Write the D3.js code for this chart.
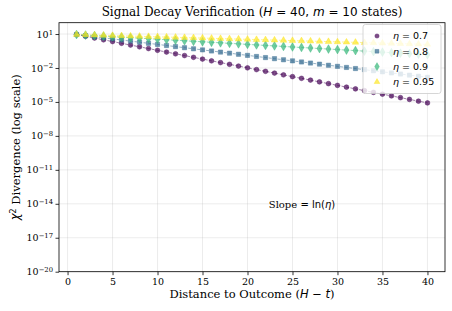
<!DOCTYPE html>
<html>
<head>
<meta charset="utf-8">
<script src="https://cdn.jsdelivr.net/npm/d3@7"></script>
<style>
  body { margin: 0; background: #fff; }
</style>
</head>
<body>
<div id="chart"></div>
<script>
// distance to outcome (H - t)
const distances = d3.range(1, 41);

// chi^2 divergence, one list per eta
const eta07 = [9, 6.3, 4.41, 3.087, 2.161, 1.513, 1.059, 0.741, 0.519, 0.363, 0.254, 0.178, 0.125, 0.0872, 0.0610, 0.0427, 0.0299, 0.0209, 0.01466, 0.01026, 0.00718, 0.00503, 0.00352, 0.00246, 0.00172, 0.00121, 8.45e-4, 5.91e-4, 4.14e-4, 2.90e-4, 2.03e-4, 1.42e-4, 9.94e-5, 6.96e-5, 4.87e-5, 3.41e-5, 2.39e-5, 1.67e-5, 1.17e-5, 8.19e-6];
const eta08 = [9, 7.2, 5.76, 4.608, 3.686, 2.949, 2.359, 1.887, 1.510, 1.208, 0.966, 0.773, 0.618, 0.495, 0.396, 0.317, 0.253, 0.203, 0.162, 0.130, 0.1038, 0.0830, 0.0664, 0.0531, 0.0425, 0.0340, 0.0272, 0.0218, 0.0174, 0.01393, 0.01114, 0.00891, 0.00713, 0.00570, 0.00456, 0.00365, 0.00292, 0.00234, 0.00187, 0.00150];
const eta09 = [9, 8.1, 7.29, 6.561, 5.905, 5.314, 4.783, 4.305, 3.874, 3.487, 3.138, 2.824, 2.542, 2.288, 2.059, 1.853, 1.668, 1.501, 1.351, 1.216, 1.094, 0.985, 0.886, 0.798, 0.718, 0.646, 0.582, 0.523, 0.471, 0.424, 0.382, 0.343, 0.309, 0.278, 0.250, 0.225, 0.203, 0.182, 0.164, 0.148];
const eta095 = [9, 8.55, 8.12, 7.72, 7.33, 6.96, 6.62, 6.29, 5.97, 5.67, 5.39, 5.12, 4.86, 4.62, 4.39, 4.17, 3.96, 3.76, 3.57, 3.40, 3.23, 3.07, 2.91, 2.77, 2.63, 2.50, 2.37, 2.25, 2.14, 2.03, 1.93, 1.84, 1.74, 1.66, 1.57, 1.49, 1.42, 1.35, 1.28, 1.22];

const etaLabels = ["0.7", "0.8", "0.9", "0.95"];
const seriesValues = [eta07, eta08, eta09, eta095];
const colors = ["#440154", "#31688e", "#35b779", "#fde725"];
const symbols = [d3.symbolCircle, d3.symbolSquare, d3.symbolDiamond, d3.symbolTriangle];

const xTicks = [0, 5, 10, 15, 20, 25, 30, 35, 40];
const yTickExps = [1, -2, -5, -8, -11, -14, -17, -20];

const SERIF = "'DejaVu Serif', serif";
const SANS = "'DejaVu Sans', sans-serif";

const width = 452, height = 311;
const margin = { top: 22.7, right: 7, bottom: 39.3, left: 59 };

const svg = d3.select("#chart").append("svg")
    .attr("width", width)
    .attr("height", height)
    .attr("font-family", SERIF);

const x = d3.scaleLinear()
    .domain([-0.95, 41.95])
    .range([margin.left, width - margin.right]);

const y = d3.scaleLog()
    .domain([1e-20, 1e2])
    .range([height - margin.bottom, margin.top]);

// grid
const grid = svg.append("g").attr("stroke", "#b0b0b0").attr("stroke-opacity", 0.3).attr("stroke-width", 0.8);
grid.selectAll(".gx").data(xTicks).join("line")
    .attr("x1", d => x(d)).attr("x2", d => x(d))
    .attr("y1", margin.top).attr("y2", height - margin.bottom);
grid.selectAll(".gy").data(yTickExps).join("line")
    .attr("x1", margin.left).attr("x2", width - margin.right)
    .attr("y1", d => y(Math.pow(10, d))).attr("y2", d => y(Math.pow(10, d)));

// axes
const xAxis = svg.append("g")
    .attr("transform", `translate(0,${height - margin.bottom})`)
    .call(d3.axisBottom(x).tickValues(xTicks).tickSize(3.5).tickPadding(3));
const yAxis = svg.append("g")
    .attr("transform", `translate(${margin.left},0)`)
    .call(d3.axisLeft(y).tickValues(yTickExps.map(e => Math.pow(10, e))).tickSize(3.5).tickPadding(3).tickFormat(""));
[xAxis, yAxis].forEach(a => {
    a.attr("font-family", SERIF);
    a.select(".domain").remove();
    a.selectAll("line").attr("stroke", "#000").attr("stroke-width", 0.8);
});
xAxis.selectAll("text").attr("font-size", 9.5).attr("fill", "#000");

// y tick labels with superscript exponents
const yLab = yAxis.selectAll(".tick").append("text")
    .attr("x", -6).attr("dy", "0.32em")
    .attr("text-anchor", "end").attr("fill", "#000").attr("font-size", 9.5);
yLab.append("tspan").text("10");
yLab.append("tspan").attr("dy", "-0.45em").attr("font-size", 6.8)
    .text(d => {
        const e = Math.round(Math.log10(d));
        return e < 0 ? "\u2212" + (-e) : "" + e;
    });

// frame
svg.append("rect")
    .attr("x", margin.left).attr("y", margin.top)
    .attr("width", width - margin.left - margin.right)
    .attr("height", height - margin.top - margin.bottom)
    .attr("fill", "none").attr("stroke", "#000").attr("stroke-width", 0.8);

// series
const line = d3.line().x((d, i) => x(distances[i])).y(d => y(d));
seriesValues.forEach((vals, k) => {
    svg.append("path")
        .attr("d", line(vals))
        .attr("fill", "none")
        .attr("stroke", colors[k])
        .attr("stroke-opacity", 0.5)
        .attr("stroke-width", 1)
        .attr("stroke-dasharray", "3,1.5");
    svg.append("g").selectAll("path")
        .data(vals)
        .join("path")
        .attr("transform", (d, i) => `translate(${x(distances[i])},${y(d)})`)
        .attr("d", d3.symbol(symbols[k], k === 2 ? 22 : 18))
        .attr("fill", colors[k])
        .attr("fill-opacity", 0.7)
        .attr("stroke", colors[k])
        .attr("stroke-opacity", 0.8)
        .attr("stroke-width", 0.5);
});

// legend
const lg = svg.append("g").attr("transform", "translate(363,24.5)");
lg.append("rect")
    .attr("width", 78).attr("height", 69).attr("rx", 2.5)
    .attr("fill", "#fff").attr("fill-opacity", 0.8)
    .attr("stroke", "#ccc").attr("stroke-width", 0.8);
etaLabels.forEach((lab, k) => {
    const row = lg.append("g").attr("transform", `translate(0,${11.5 + k * 15.3})`);
    row.append("path")
        .attr("transform", "translate(14,0)")
        .attr("d", d3.symbol(symbols[k], k === 2 ? 18 : 14))
        .attr("fill", colors[k]).attr("fill-opacity", 0.7)
        .attr("stroke", colors[k]).attr("stroke-opacity", 0.8).attr("stroke-width", 0.5);
    const t = row.append("text").attr("x", 30).attr("dy", "0.35em")
        .attr("font-size", 9.5).attr("font-family", SANS);
    t.append("tspan").attr("font-style", "italic").text("\u03b7");
    t.append("tspan").text(" = " + lab);
});

// title
const title = svg.append("text")
    .attr("x", (margin.left + width - margin.right) / 2).attr("y", 16)
    .attr("text-anchor", "middle").attr("font-size", 12);
title.append("tspan").text("Signal Decay Verification (");
title.append("tspan").attr("font-family", SANS).attr("font-style", "italic").text("H");
title.append("tspan").attr("font-family", SANS).text(" = 40, ");
title.append("tspan").attr("font-family", SANS).attr("font-style", "italic").text("m");
title.append("tspan").attr("font-family", SANS).text(" = 10");
title.append("tspan").text(" states)");

// x label
const xl = svg.append("text")
    .attr("x", (margin.left + width - margin.right) / 2).attr("y", 298)
    .attr("text-anchor", "middle").attr("font-size", 11.5);
xl.append("tspan").text("Distance to Outcome (");
xl.append("tspan").attr("font-family", SANS).attr("font-style", "italic").text("H");
xl.append("tspan").attr("font-family", SANS).text(" \u2212 ");
xl.append("tspan").attr("font-family", SANS).attr("font-style", "italic").text("t");
xl.append("tspan").text(")");

// y label
const yl = svg.append("text")
    .attr("transform", `translate(19,${(margin.top + height - margin.bottom) / 2}) rotate(-90)`)
    .attr("text-anchor", "middle").attr("font-size", 11.5);
yl.append("tspan").attr("font-family", SANS).attr("font-style", "italic").text("\u03c7");
yl.append("tspan").attr("font-family", SANS).attr("dy", "-0.4em").attr("font-size", 8).text("2");
yl.append("tspan").attr("dy", "0.4em").text(" Divergence (log scale)");

// annotation
const ann = svg.append("text")
    .attr("x", 302).attr("y", 208)
    .attr("text-anchor", "middle").attr("font-size", 10);
ann.append("tspan").text("Slope ");
ann.append("tspan").attr("font-family", SANS).text("= ln(");
ann.append("tspan").attr("font-family", SANS).attr("font-style", "italic").text("\u03b7");
ann.append("tspan").attr("font-family", SANS).text(")");
</script>
</body>
</html>
